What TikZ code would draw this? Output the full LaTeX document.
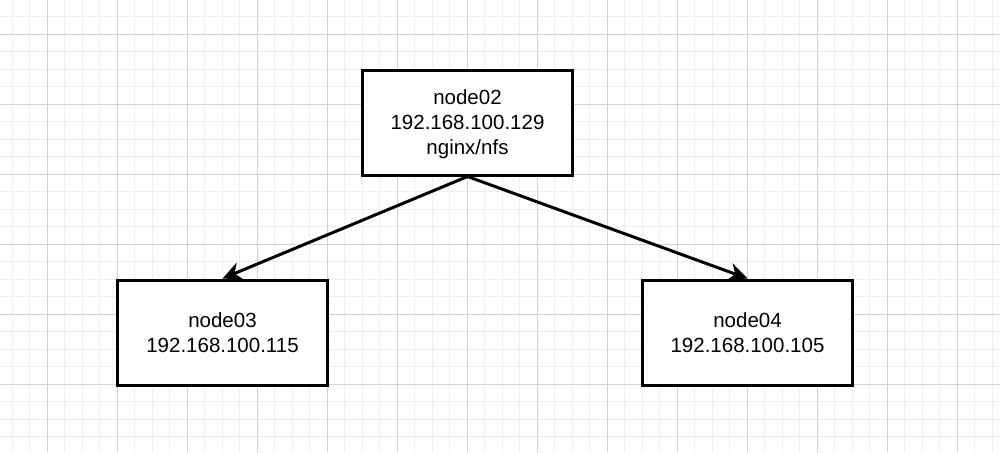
\documentclass[tikz,border=0pt]{standalone}
\usepackage{fontspec}
\setmainfont{Liberation Sans}
\usetikzlibrary{arrows.meta}
\definecolor{minorgrid}{HTML}{EFEFEF}
\definecolor{majorgrid}{HTML}{D2D2D2}
\begin{document}
\begin{tikzpicture}[x=1pt,y=-1pt,
  box/.style={draw=black,line width=3pt,minimum width=210pt,minimum height=105pt,inner sep=0pt,align=center,font=\fontsize{20.5}{25}\selectfont,fill=white},
  conn/.style={line width=3pt,-{Stealth[length=19pt,width=18pt,inset=6pt]}},
  minorline/.style={draw=minorgrid,line width=1pt},
  majorline/.style={draw=majorgrid,line width=1pt}]
\useasboundingbox (0,0) rectangle (1000,452);
\fill[white] (0,0) rectangle (1000,452);
\foreach \i in {0,...,57} { \draw[minorline] (12.3+17.5*\i,0) -- ++(0,452); }
\foreach \i in {0,...,26} { \draw[minorline] (0,-0.7+17.5*\i) -- ++(1000,0); }
\foreach \i in {0,...,14} { \draw[majorline] (47.3+70*\i,0) -- ++(0,452); }
\foreach \i in {0,...,6} { \draw[majorline] (0,34.3+70*\i) -- ++(1000,0); }
\node[box,text depth=0pt] (n2) at (467.5,122.5) {node02\\192.168.100.129\\nginx/nfs};
\node[box] (n3) at (222.5,332.5) {node03\\192.168.100.115};
\node[box] (n4) at (747.5,332.5) {node04\\192.168.100.105};
\draw[conn] (n2.south) -- (n3.north);
\draw[conn] (n2.south) -- (n4.north);
\end{tikzpicture}
\end{document}
